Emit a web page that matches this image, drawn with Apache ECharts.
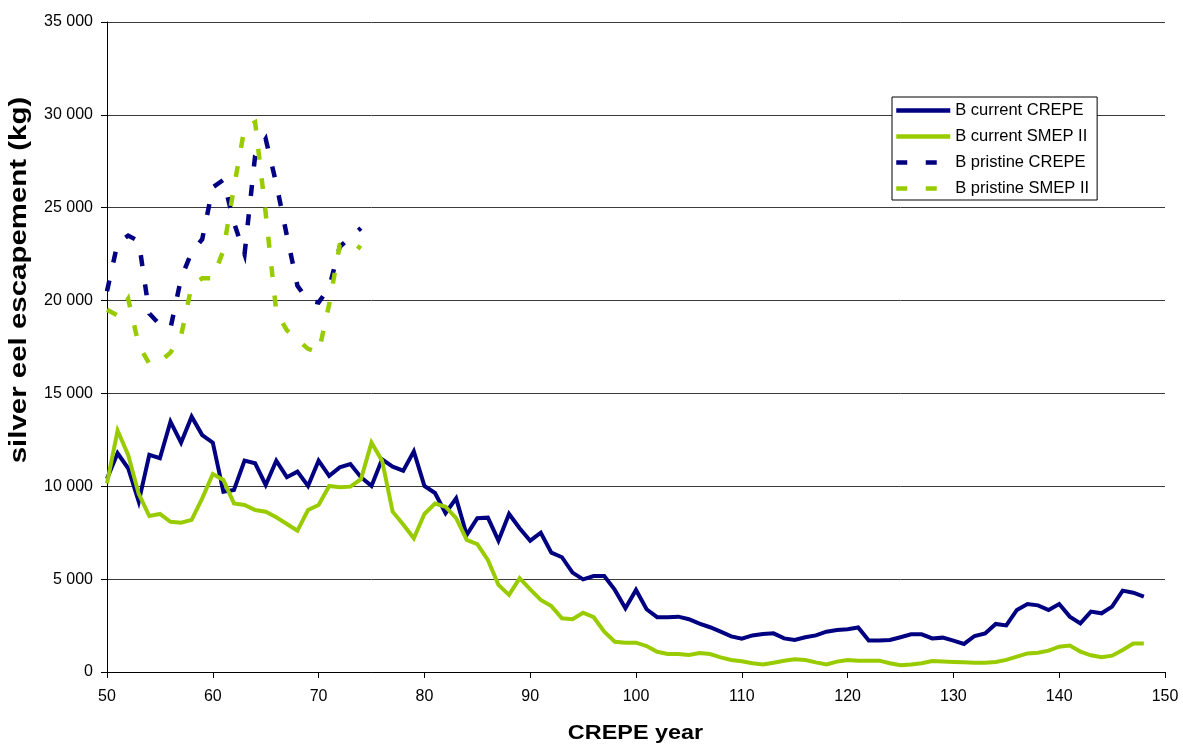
<!DOCTYPE html>
<html><head><meta charset="utf-8">
<script src="https://cdn.jsdelivr.net/npm/echarts@6/dist/echarts.min.js"></script>
<style>html,body{margin:0;padding:0;background:#fff}#c{width:1183px;height:745px}</style>
</head><body><div id="c"></div><script>
const currentYears = [50,51,52,53,54,55,56,57,58,59,60,61,62,63,64,65,66,67,68,69,70,71,72,73,74,75,76,77,78,79,80,81,82,83,84,85,86,87,88,89,90,91,92,93,94,95,96,97,98,99,100,101,102,103,104,105,106,107,108,109,110,111,112,113,114,115,116,117,118,119,120,121,122,123,124,125,126,127,128,129,130,131,132,133,134,135,136,137,138,139,140,141,142,143,144,145,146,147,148];
const pristineYears = [50,51,52,53,54,55,56,57,58,59,60,61,62,63,64,65,66,67,68,69,70,71,72,73,74];

const currentCREPE = [10400,11780,10970,9170,11690,11510,13480,12350,13750,12760,
 12350,9710,9800,11380,11240,10070,11380,10490,10790,10020,
 11380,10560,11020,11200,10490,10020,11450,11060,10840,11880,
 10020,9640,8550,9350,7380,8280,8310,7070,8510,7740,
 7070,7500,6430,6180,5350,4990,5170,5170,4420,3430,
 4420,3380,2950,2950,2980,2840,2600,2410,2170,1920,
 1790,1970,2050,2080,1810,1720,1870,1970,2170,2260,
 2300,2400,1690,1690,1720,1870,2030,2030,1810,1850,
 1690,1510,1940,2080,2590,2510,3340,3660,3590,3340,
 3660,2980,2620,3250,3160,3520,4380,4270,4060];

const currentSMEP = [10160,13000,11690,9590,8400,8510,8090,8040,8190,9350,
 10660,10340,9080,8990,8720,8630,8330,7970,7610,8720,
 8990,10020,9950,9980,10380,12350,11380,8630,7940,7200,
 8510,9070,8900,8280,7110,6890,6030,4690,4150,5050,
 4450,3880,3550,2890,2840,3190,2950,2170,1630,1580,
 1580,1400,1090,970,970,920,1020,970,790,650,
 580,470,400,500,610,680,650,520,410,560,
 650,610,610,610,470,360,400,470,590,570,
 540,520,500,500,540,650,830,1000,1040,1150,
 1360,1420,1100,900,790,880,1190,1530,1530];

const pristineCREPE = [20500,23100,23500,23200,19300,18700,18500,21200,22600,23300,
 26100,26500,24200,22500,27800,28700,26300,23500,20800,20000,
 19900,20700,22900,23400,23900];

const pristineSMEP = [19500,19200,20100,17600,16600,16700,17200,18100,20800,21200,
 21200,22700,26100,29300,29600,24700,19400,18400,17900,17400,
 17200,19800,23000,23200,22800];

const seriesNames = ['B current CREPE','B current SMEP II','B pristine CREPE','B pristine SMEP II'];
const xTitle = 'CREPE year';
const yTitle = 'silver eel escapement (kg)';

const FONT = '"Liberation Sans", Arial, sans-serif';
const NAVY = '#000080';
const LIME = '#99CC00';
const DASHED_W = 4.5;

function pairs(xs, ys) { return xs.map((x, i) => [x, ys[i]]); }

const chart = echarts.init(document.getElementById('c'), null, {renderer: 'canvas'});

function lineSeries(name, xs, ys, color, dashed) {
  return {
    name: name, type: 'line', data: pairs(xs, ys),
    symbol: 'none', showSymbol: false, smooth: false,
    lineStyle: {color: color, width: dashed ? DASHED_W : 4,
      type: dashed ? [11, 18.5] : 'solid', join: 'miter', cap: 'butt'},
    itemStyle: {color: color},
    emphasis: {disabled: true}
  };
}

const option = {
  animation: false,
  backgroundColor: '#fff',
  grid: {left: 107, right: 18, top: 22, bottom: 73, containLabel: false},
  xAxis: {
    type: 'value', min: 50, max: 150, interval: 10,
    axisLine: {show: true, onZero: false, lineStyle: {color: '#000', width: 1}},
    axisTick: {show: true, length: 6, lineStyle: {color: '#000', width: 1}},
    axisLabel: {fontSize: 16, color: '#000', fontFamily: FONT, margin: 17},
    splitLine: {show: false}
  },
  yAxis: {
    type: 'value', min: 0, max: 35000, interval: 5000,
    axisLine: {show: true, lineStyle: {color: '#000', width: 1}},
    axisTick: {show: true, length: 6, lineStyle: {color: '#000', width: 1}},
    axisLabel: {fontSize: 16, color: '#000', fontFamily: FONT, margin: 14,
      formatter: v => v === 0 ? '0' : (v / 1000) + ' 000'},
    splitLine: {show: true, lineStyle: {color: '#3a3a3a', width: 1}}
  },
  legend: {
    orient: 'vertical', left: 892, top: 97,
    padding: [5, 8, 3, 2],
    itemWidth: 54, itemHeight: 16, itemGap: 9,
    borderColor: '#000', borderWidth: 1, backgroundColor: '#fff',
    textStyle: {fontSize: 16.5, color: '#000', fontFamily: FONT},
    lineStyle: {width: DASHED_W},
    itemStyle: {opacity: 0, borderWidth: 0},
    selectedMode: false,
    data: seriesNames
  },
  series: [
    lineSeries(seriesNames[0], currentYears, currentCREPE, NAVY, false),
    lineSeries(seriesNames[1], currentYears, currentSMEP, LIME, false),
    lineSeries(seriesNames[2], pristineYears, pristineCREPE, NAVY, true),
    lineSeries(seriesNames[3], pristineYears, pristineSMEP, LIME, true)
  ],
  graphic: [
    {type: 'text', x: 635.5, y: 734, scaleX: 1.2, silent: true,
     style: {text: xTitle, font: 'bold 19.5px ' + FONT, fill: '#000', align: 'center', verticalAlign: 'middle'}},
    {type: 'text', x: 19.5, y: 280, rotation: Math.PI / 2, scaleX: 1.28, silent: true,
     style: {text: yTitle, font: 'bold 23px ' + FONT, fill: '#000', align: 'center', verticalAlign: 'middle'}}
  ]
};
chart.setOption(option);
</script></body></html>
